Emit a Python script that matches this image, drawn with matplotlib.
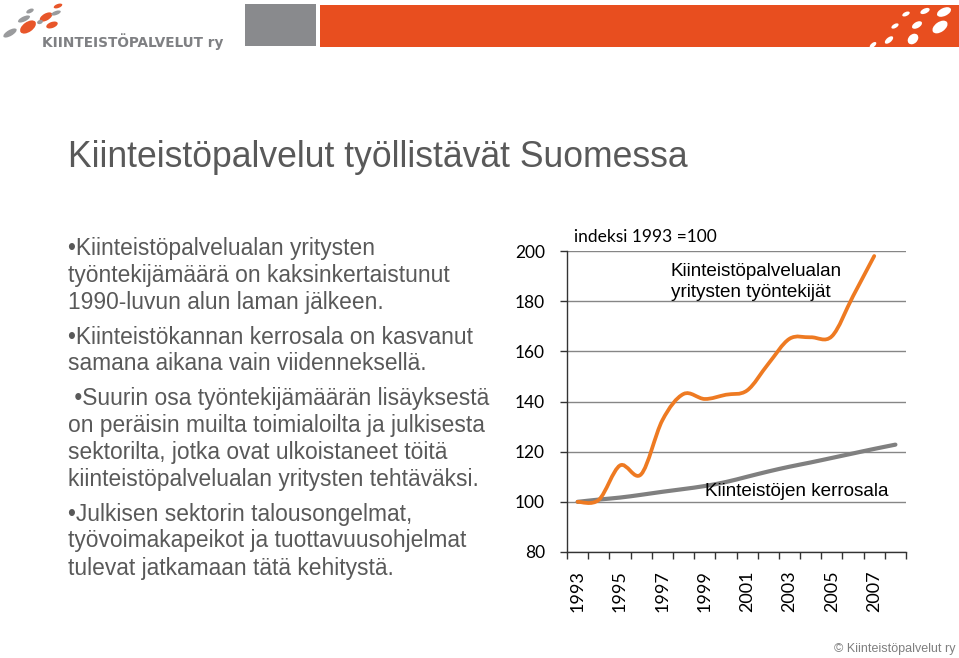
import numpy as np
import matplotlib
matplotlib.use("Agg")
import matplotlib.pyplot as plt
from matplotlib.path import Path
from matplotlib.patches import PathPatch, Rectangle, Ellipse

# data, index 1993 = 100
years = list(range(1993, 2009))
employees = [100, 100.8, 114.5, 111, 132.5, 143, 141, 142.7, 144.4, 155,
             165, 165.6, 166, 182, 198]          # 1993-2007
floor_area = [100, 100.9, 101.7, 102.8, 104, 105.1, 106.3, 107.9, 110, 112.1,
              114, 115.7, 117.5, 119.3, 121.1, 122.8]   # 1993-2008
yticks = [80, 100, 120, 140, 160, 180, 200]

title = "Kiinteistöpalvelut työllistävät Suomessa"
bullets = [
    ["•Kiinteistöpalvelualan yritysten",
     "työntekijämäärä on kaksinkertaistunut",
     "1990-luvun alun laman jälkeen."],
    ["•Kiinteistökannan kerrosala on kasvanut",
     "samana aikana vain viidenneksellä."],
    [" •Suurin osa työntekijämäärän lisäyksestä",
     "on peräisin muilta toimialoilta ja julkisesta",
     "sektorilta, jotka ovat ulkoistaneet töitä",
     "kiinteistöpalvelualan yritysten tehtäväksi."],
    ["•Julkisen sektorin talousongelmat,",
     "työvoimakapeikot ja tuottavuusohjelmat",
     "tulevat jatkamaan tätä kehitystä."],
]

ORANGE = "#ee7a22"
GREY = "#808080"
TXT = "#595959"


def smooth_path(xs, ys):
    # excel-like smoothed line (bezier through the points)
    p = np.column_stack([xs, ys]).astype(float)
    n = len(p)
    verts = [p[0]]
    codes = [Path.MOVETO]
    for i in range(n - 1):
        p0 = p[i - 1] if i > 0 else p[i]
        p3 = p[i + 2] if i + 2 < n else p[i + 1]
        c1 = p[i] + (p[i + 1] - p0) / 6.0
        c2 = p[i + 1] - (p3 - p[i]) / 6.0
        verts += [c1, c2, p[i + 1]]
        codes += [Path.CURVE4] * 3
    return Path(verts, codes)


fig = plt.figure(figsize=(9.59, 6.58), dpi=100)

# background layer in pixel coords
bg = fig.add_axes([0, 0, 1, 1])
bg.set_xlim(0, 959)
bg.set_ylim(658, 0)
bg.axis("off")

bg.add_patch(Rectangle((245, 4), 71, 42, color="#898a8d", lw=0))
bg.add_patch(Rectangle((320, 5), 639, 42, color="#e84e1f", lw=0))

# white swirl on the orange bar
for (x, y, w, h, a) in [(944, 12, 15, 8, 25), (925, 11, 10, 5, 25), (906, 14, 8, 4, 25),
                        (940, 27, 17, 10, 35), (917, 25, 11, 6, 30), (895, 26, 8, 4, 30),
                        (913, 39, 12, 9, 45), (889, 40, 10, 5, 40), (873, 45, 8, 4, 40)]:
    bg.add_patch(Ellipse((x, y), w, h, angle=-a, color="white", lw=0))

# company logo
for (x, y, w, h, a, c) in [(10, 33, 15, 6, 30, "#9a9b9d"), (24, 19, 13, 5, 25, "#9a9b9d"),
                           (30, 11, 8, 4, 25, "#9a9b9d"), (28, 27, 18, 10, 35, "#e8562a"),
                           (46, 17, 14, 7, 30, "#e8562a"), (52, 25, 12, 6, 20, "#e8562a"),
                           (56, 13, 10, 4, 20, "#9a9b9d"), (58, 6, 9, 4, 20, "#e8562a"),
                           (40, 22, 6, 4, 20, "#9a9b9d")]:
    bg.add_patch(Ellipse((x, y), w, h, angle=-a, color=c, lw=0))
bg.text(42, 47, "KIINTEISTÖPALVELUT ry", fontsize=9.8, fontweight="bold",
        color="#7f8083", family="DejaVu Sans", va="baseline", ha="left")

bg.text(68, 167, title, fontsize=25.6, color=TXT, family="Liberation Sans",
        va="baseline", ha="left")

y = 255
for para in bullets:
    for line in para:
        bg.text(68, y, line, fontsize=16.4, color=TXT, family="Liberation Sans",
                va="baseline", ha="left")
        y += 27
    y += 7.5

bg.text(955, 652, "© Kiinteistöpalvelut ry", fontsize=9, color="#7f7f7f",
        family="Liberation Sans", va="baseline", ha="right")

# chart
ax = fig.add_axes([567 / 959, 1 - 552 / 658, 339 / 959, 301 / 658])
x_emp = np.arange(len(employees))
x_area = np.arange(len(floor_area))
ax.add_patch(PathPatch(smooth_path(x_area, floor_area), fc="none", ec=GREY,
                       lw=3.0, capstyle="round", zorder=3))
ax.add_patch(PathPatch(smooth_path(x_emp, employees), fc="none", ec=ORANGE,
                       lw=2.7, capstyle="round", zorder=4))

ax.set_xlim(-0.5, len(years) - 0.5)
ax.set_ylim(80, 200)
ax.set_yticks(yticks)
ax.set_yticklabels([str(v) for v in yticks], family="Lato", fontsize=12.5)
ax.yaxis.grid(True, color="#868686", lw=1)
ax.set_axisbelow(True)
for s in ["top", "right"]:
    ax.spines[s].set_visible(False)
for s in ["left", "bottom"]:
    ax.spines[s].set_color("#333333")
    ax.spines[s].set_linewidth(1)
ax.tick_params(axis="y", length=5, width=1, color="#333333", pad=11)

ax.set_xticks(x_area[::2])
ax.set_xticklabels([str(v) for v in years[::2]], rotation=90, family="Lato",
                   fontsize=13)
ax.set_xticks(np.arange(-0.5, len(years)), minor=True)
ax.tick_params(axis="x", which="major", length=0, pad=13)
ax.tick_params(axis="x", which="minor", length=5, width=1, color="#333333")

ax.text(574, 241.7, "indeksi 1993 =100", transform=bg.transData, family="Lato",
        fontsize=12.5, va="baseline", ha="left")
ax.text(671, 276, "Kiinteistöpalvelualan", transform=bg.transData,
        family="Liberation Sans", fontsize=13.6, va="baseline", ha="left")
ax.text(671, 297, "yritysten työntekijät", transform=bg.transData,
        family="Liberation Sans", fontsize=13.6, va="baseline", ha="left")
ax.text(705, 496, "Kiinteistöjen kerrosala", transform=bg.transData,
        family="Liberation Sans", fontsize=13.6, va="baseline", ha="left")

fig.savefig("out.png", dpi=100)
